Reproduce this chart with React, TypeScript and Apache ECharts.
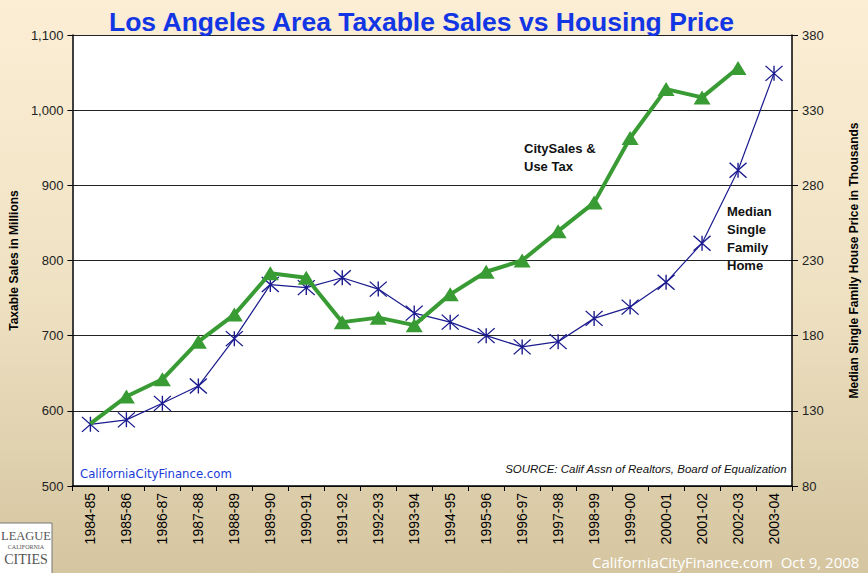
import React, { useEffect, useRef } from "react";
import * as echarts from "echarts";

const categories = [
  "1984-85", "1985-86", "1986-87", "1987-88", "1988-89", "1989-90", "1990-91",
  "1991-92", "1992-93", "1993-94", "1994-95", "1995-96", "1996-97", "1997-98",
  "1998-99", "1999-00", "2000-01", "2001-02", "2002-03", "2003-04",
];

// Taxable sales in millions (left axis)
const citySales = [
  583, 619, 642, 692, 728, 783, 777, 718, 724, 714, 755, 785, 800, 839, 877,
  963, 1028, 1017, 1056, null,
];

// Median single family home price in thousands (right axis)
const homePrice = [
  121, 124, 135, 146.5, 178, 214, 212, 218.5, 211, 195, 189, 180, 172.5, 176,
  191.5, 199, 215.5, 241.5, 290, 354.5,
];

const leftTicks = [500, 600, 700, 800, 900, 1000, 1100];
const rightTicks = [80, 130, 180, 230, 280, 330, 380];

const starPath = "path://M0 0 L20 18 M20 0 L0 18 M10 0 L10 18";

export default function App() {
  const ref = useRef<HTMLDivElement>(null);

  useEffect(() => {
    if (!ref.current) return;
    const chart = echarts.init(ref.current, undefined, { renderer: "svg" });
    const font = "'Liberation Sans', Arial, sans-serif";
    chart.setOption({
      animation: false,
      backgroundColor: new echarts.graphic.LinearGradient(0, 0, 0, 1, [
        { offset: 0, color: "#FBEED5" },
        { offset: 0.5, color: "#EFE2C3" },
        { offset: 1, color: "#D5C5A0" },
      ]),
      title: {
        text: "Los Angeles Area Taxable Sales vs Housing Price",
        left: 104,
        top: 3,
        textStyle: {
          fontFamily: font,
          fontSize: 26.5,
          fontWeight: "bold",
          color: "#1236E4",
        },
      },
      grid: {
        left: 72,
        right: 72,
        top: 35,
        bottom: 87,
        show: true,
        backgroundColor: "#ffffff",
        borderWidth: 0,
      },
      xAxis: {
        type: "category",
        data: categories,
        boundaryGap: true,
        axisLine: { show: true, lineStyle: { color: "#000", width: 1.5 } },
        axisTick: {
          show: true,
          interval: 0,
          length: 5,
          lineStyle: { color: "#000" },
        },
        axisLabel: {
          interval: 0,
          rotate: 90,
          margin: 7,
          fontFamily: font,
          fontSize: 14,
          color: "#000",
        },
      },
      yAxis: [
        {
          type: "value",
          min: leftTicks[0],
          max: leftTicks[leftTicks.length - 1],
          interval: 100,
          position: "left",
          name: "Taxable Sales in Millions",
          nameLocation: "middle",
          nameRotate: 90,
          nameGap: 48,
          nameTextStyle: {
            fontFamily: font,
            fontSize: 12,
            fontWeight: "bold",
            color: "#000",
          },
          axisLine: { show: true, lineStyle: { color: "#000", width: 1.5 } },
          axisTick: { show: true, length: 5, lineStyle: { color: "#000" } },
          axisLabel: {
            margin: 9,
            fontFamily: font,
            fontSize: 13,
            color: "#222",
            formatter: (v: number) => v.toLocaleString("en-US"),
          },
          splitLine: { show: true, lineStyle: { color: "#222", width: 1.2 } },
        },
        {
          type: "value",
          min: rightTicks[0],
          max: rightTicks[rightTicks.length - 1],
          interval: 50,
          position: "right",
          name: "Median Single Family House Price in Thousands",
          nameLocation: "middle",
          nameRotate: 90,
          nameGap: 56,
          nameTextStyle: {
            fontFamily: font,
            fontSize: 12,
            fontWeight: "bold",
            color: "#000",
          },
          axisLine: { show: true, lineStyle: { color: "#000", width: 1.5 } },
          axisTick: { show: true, length: 6, lineStyle: { color: "#000" } },
          axisLabel: {
            margin: 10,
            fontFamily: font,
            fontSize: 13,
            color: "#222",
          },
          splitLine: { show: false },
        },
      ],
      series: [
        {
          name: "Median Single Family Home",
          type: "line",
          yAxisIndex: 1,
          data: homePrice,
          symbol: starPath,
          symbolSize: [17, 15],
          symbolKeepAspect: false,
          itemStyle: { color: "none", borderColor: "#1B1B8F", borderWidth: 1.3 },
          lineStyle: { color: "#1B1B8F", width: 1.2 },
          z: 2,
        },
        {
          name: "CitySales & Use Tax",
          type: "line",
          yAxisIndex: 0,
          data: citySales.map((v, i) =>
            i === 0 ? { value: v, symbol: "none" } : v
          ),
          symbol: "triangle",
          symbolSize: [17, 14],
          itemStyle: { color: "#389B33" },
          lineStyle: { color: "#389B33", width: 4 },
          z: 3,
        },
      ],
      graphic: [
        {
          type: "text",
          left: 524,
          top: 139,
          style: {
            text: "CitySales &\nUse Tax",
            font: `bold 13px ${font}`,
            fill: "#111",
            lineHeight: 18,
          },
        },
        {
          type: "text",
          left: 727,
          top: 202,
          style: {
            text: "Median\nSingle\nFamily\nHome",
            font: `bold 13px ${font}`,
            fill: "#111",
            lineHeight: 18,
          },
        },
        {
          type: "text",
          right: 81,
          top: 463,
          style: {
            text: "SOURCE: Calif Assn of Realtors, Board of Equalization",
            font: `italic 11.5px ${font}`,
            fill: "#111",
          },
        },
        {
          type: "text",
          left: 80,
          top: 467,
          style: {
            text: "CaliforniaCityFinance.com",
            font: `13px 'DejaVu Sans Condensed', 'DejaVu Sans', sans-serif`,
            fill: "#1A3BD8",
          },
        },
        {
          type: "rect",
          shape: { x: -1, y: 523, width: 53, height: 52 },
          style: { fill: "#ffffff", stroke: "#777", lineWidth: 1 },
        },
        {
          type: "text",
          x: 26,
          y: 529,
          style: {
            text: "LEAGUE",
            font: `12.5px 'Liberation Serif', 'DejaVu Serif', serif`,
            fill: "#555",
            align: "center",
          },
        },
        {
          type: "text",
          x: 26,
          y: 544,
          style: {
            text: "CALIFORNIA",
            font: `6px 'Liberation Serif', serif`,
            fill: "#555",
            align: "center",
          },
        },
        {
          type: "text",
          x: 26,
          y: 552,
          style: {
            text: "CITIES",
            font: `14px 'Liberation Serif', 'DejaVu Serif', serif`,
            fill: "#555",
            align: "center",
          },
        },
        {
          type: "text",
          x: 592,
          y: 554,
          style: {
            text: "CaliforniaCityFinance.com  Oct 9, 2008",
            font: `15px 'Open Sans', 'Noto Sans', sans-serif`,
            fill: "#ffffff",
          },
        },
      ],
    });
    return () => chart.dispose();
  }, []);

  return (
    <div
      ref={ref}
      style={{ position: "fixed", left: 0, top: 0, width: 868, height: 573 }}
    />
  );
}
